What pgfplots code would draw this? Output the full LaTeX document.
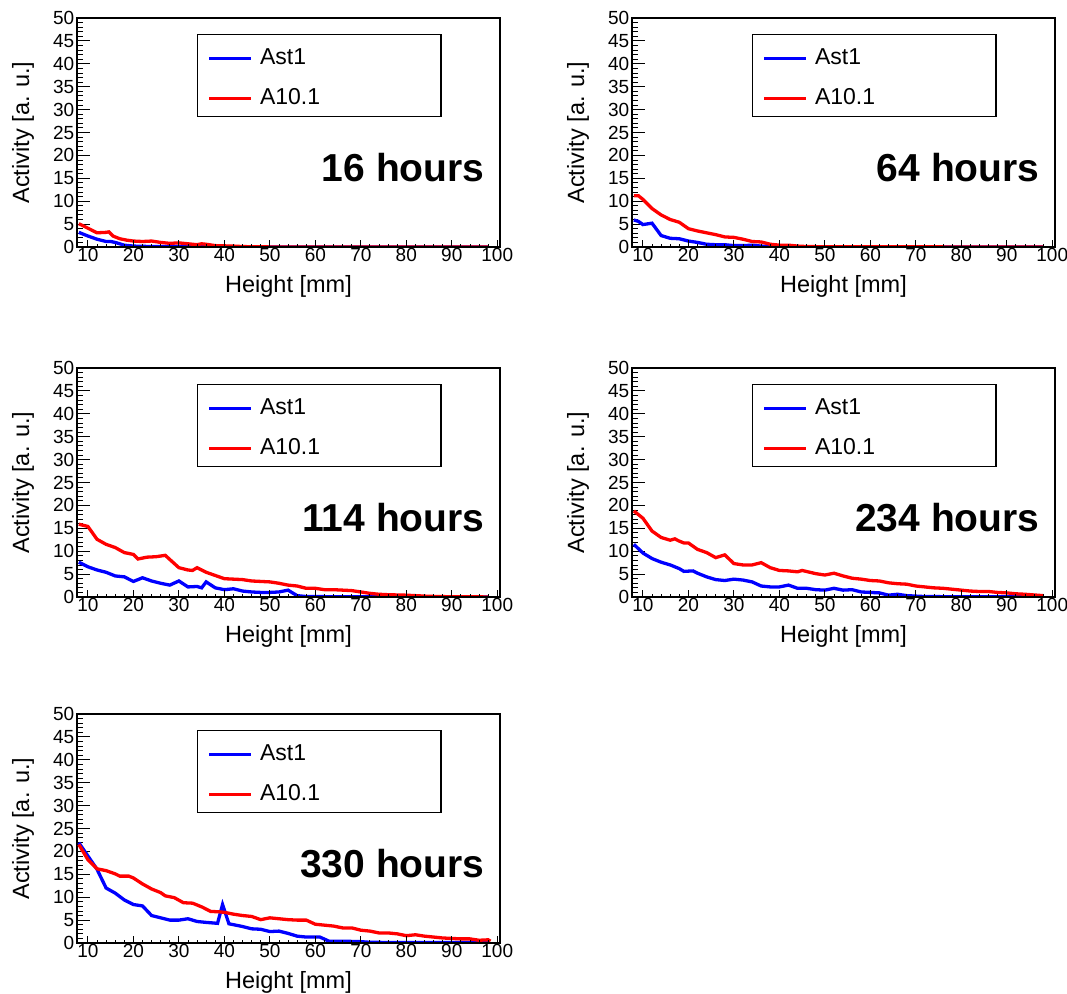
\documentclass[border=0pt]{standalone}
\usepackage{fontspec}
\setmainfont{Liberation Sans}
\usepackage{pgfplots}
\pgfplotsset{compat=1.18}
\pgfplotsset{
  rootbase/.style={
    scale only axis, width=423pt, height=229pt, anchor=south west,
    xmin=7.6, xmax=100.6, ymin=0, ymax=50,
    tick align=inside, xtick pos=bottom, ytick pos=left,
    axis line style={line width=1.3pt},
    every tick/.style={black, line width=0.9pt},
    tick label style={font=\fontsize{19}{19}\selectfont},
    xticklabel style={inner sep=1.5pt},
    yticklabel style={inner sep=2.5pt},
    /pgf/number format/assume math mode=true,
  },
  rootstyle/.style={
    rootbase,
    xtick=\empty, ytick={0,5,...,50}, minor y tick num=4,
    major tick length=12.7pt, minor tick length=6.3pt,
    xlabel={Height [mm]}, ylabel={Activity [a. u.]},
    every axis x label/.style={at={(rel axis cs:0.5,0)}, yshift=-39pt, anchor=center, font=\fontsize{23.5}{24}\selectfont},
    every axis y label/.style={at={(rel axis cs:0,0.5)}, xshift=-54pt, rotate=90, anchor=center, font=\fontsize{23.5}{24}\selectfont},
    legend style={at={(0.284,0.93)}, anchor=north west, draw=black, line width=1.2pt,
      inner xsep=10pt, inner ysep=12.5pt, row sep=23pt, column sep=7pt,
      font=\fontsize{23}{23}\selectfont,
      nodes={inner sep=0pt, text height=17pt, text depth=0pt}},
    legend cell align=left,
    legend image code/.code={\draw[##1] (0pt,-3pt) -- (42pt,-3pt);},
  },
  xtickaxis/.style={
    rootbase, hide y axis,
    xtick={10,20,...,100}, minor x tick num=4,
    major tick length=6.9pt, minor tick length=3.4pt,
  },
  bl/.style={blue, line width=3.3pt},
  rd/.style={red, line width=3.3pt},
}
\newcommand{\hourlabel}[1]{\node[anchor=base east, font=\fontsize{39}{39}\selectfont\bfseries] at (rel axis cs:0.9716,0.288) {#1};}
\begin{document}
\begin{tikzpicture}
\useasboundingbox (0pt,0pt) rectangle (1067pt,-993pt);
% 16 hours
\begin{axis}[rootstyle, at={(77pt,-247pt)}]
\addplot[bl] coordinates {(8,3.2)(10,2.4)(12,1.7)(14,1.2)(15,1.2)(16,1.0)(18,0.4)(20,0.2)(22,0.15)(24,0.1)(26,0.1)(28,0.1)(30,0.1)(32,0.1)(34,0.1)(36,0.2)(38,0.05)(40,0.05)(44,0.02)(46,0)(98,0)};
\addlegendentry{\makebox[171pt][l]{Ast1}}
\addplot[rd] coordinates {(8,5.1)(10,4.1)(12,3.1)(14,3.2)(14.6,3.3)(15.5,2.4)(17,1.8)(18.5,1.5)(20,1.3)(22,1.2)(24,1.3)(26,1.0)(28,0.8)(30,0.9)(32,0.7)(34,0.5)(35,0.7)(36,0.6)(38,0.3)(40,0.25)(42,0.2)(44,0.1)(46,0.05)(50,0.02)(98,0)};
\addlegendentry{\makebox[171pt][l]{A10.1}}
\hourlabel{16 hours}
\end{axis}
\begin{axis}[xtickaxis, at={(77pt,-247pt)}]\end{axis}
% 64 hours
\begin{axis}[rootstyle, at={(632pt,-247pt)}]
\addplot[bl] coordinates {(8,5.9)(9,5.6)(10,4.9)(12,5.2)(14,2.5)(16,1.9)(18,1.8)(20,1.3)(22,1.0)(24,0.6)(26,0.5)(28,0.5)(30,0.3)(32,0.3)(34,0.4)(36,0.2)(38,0.1)(40,0.05)(44,0)(98,0)};
\addlegendentry{\makebox[171pt][l]{Ast1}}
\addplot[rd] coordinates {(8,11.2)(9,11.2)(10,10.4)(12,8.4)(14,7.0)(16,6.0)(18,5.4)(20,4.0)(22,3.5)(24,3.1)(26,2.7)(28,2.2)(30,2.1)(32,1.7)(34,1.2)(36,1.1)(38,0.6)(40,0.4)(42,0.4)(44,0.2)(46,0.1)(50,0.05)(98,0)};
\addlegendentry{\makebox[171pt][l]{A10.1}}
\hourlabel{64 hours}
\end{axis}
\begin{axis}[xtickaxis, at={(632pt,-247pt)}]\end{axis}
% 114 hours
\begin{axis}[rootstyle, at={(77pt,-597pt)}]
\addplot[bl] coordinates {(8,7.6)(10,6.6)(12,5.9)(14,5.4)(16,4.6)(18,4.4)(20,3.4)(22,4.2)(24,3.5)(26,3.0)(28,2.6)(30,3.5)(32,2.2)(34,2.3)(35,2.0)(36,3.3)(38,2.0)(40,1.6)(42,1.8)(44,1.3)(46,1.1)(48,1.0)(50,1.0)(52,1.1)(54,1.5)(56,0.3)(58,0.1)(60,0.1)(65,0.05)(70,0.05)(80,0)(98,0)};
\addlegendentry{\makebox[171pt][l]{Ast1}}
\addplot[rd] coordinates {(8,15.9)(10,15.4)(12,12.6)(14,11.5)(16,10.8)(18,9.7)(20,9.3)(21,8.3)(23,8.7)(25,8.8)(27,9.1)(30,6.4)(32,5.9)(33,5.8)(34,6.4)(36,5.4)(38,4.7)(40,4.0)(42,3.9)(44,3.8)(46,3.5)(48,3.4)(50,3.3)(52,3.0)(54,2.6)(56,2.4)(58,1.9)(60,1.9)(62,1.6)(64,1.6)(66,1.5)(68,1.4)(70,1.1)(72,0.8)(74,0.6)(76,0.5)(80,0.4)(85,0.15)(90,0.05)(98,0.02)};
\addlegendentry{\makebox[171pt][l]{A10.1}}
\hourlabel{114 hours}
\end{axis}
\begin{axis}[xtickaxis, at={(77pt,-597pt)}]\end{axis}
% 234 hours
\begin{axis}[rootstyle, at={(632pt,-597pt)}]
\addplot[bl] coordinates {(8,11.5)(10,9.6)(12,8.4)(14,7.6)(16,7.0)(18,6.2)(19,5.6)(21,5.7)(22,5.2)(24,4.4)(26,3.8)(28,3.6)(30,3.9)(32,3.7)(34,3.3)(36,2.4)(38,2.2)(40,2.2)(42,2.6)(44,1.9)(46,1.9)(48,1.6)(50,1.5)(52,1.9)(54,1.5)(56,1.6)(58,1.1)(60,1.0)(62,0.9)(64,0.4)(66,0.6)(68,0.3)(70,0.2)(72,0.1)(80,0.05)(98,0.02)};
\addlegendentry{\makebox[171pt][l]{Ast1}}
\addplot[rd] coordinates {(8,18.8)(10,17.2)(12,14.4)(14,13.0)(16,12.4)(17,12.7)(18,12.2)(19,11.8)(20,11.8)(22,10.4)(24,9.7)(26,8.6)(28,9.2)(30,7.3)(32,7.0)(34,7.0)(36,7.5)(38,6.4)(40,5.8)(42,5.7)(44,5.5)(45,5.8)(48,5.1)(50,4.8)(52,5.2)(54,4.6)(56,4.1)(58,3.9)(60,3.6)(62,3.5)(64,3.1)(66,2.9)(68,2.8)(70,2.4)(72,2.2)(74,2.0)(76,1.9)(78,1.7)(80,1.5)(82,1.3)(84,1.2)(86,1.2)(88,1.0)(90,0.9)(92,0.7)(94,0.6)(96,0.45)(98,0.3)};
\addlegendentry{\makebox[171pt][l]{A10.1}}
\hourlabel{234 hours}
\end{axis}
\begin{axis}[xtickaxis, at={(632pt,-597pt)}]\end{axis}
% 330 hours
\begin{axis}[rootstyle, at={(77pt,-943pt)}]
\addplot[bl] coordinates {(8,21.9)(10,19.0)(12,16.1)(14,12.0)(16,10.9)(18,9.4)(20,8.4)(22,8.1)(24,6.0)(26,5.5)(28,5.0)(30,5.0)(32,5.3)(34,4.7)(36,4.5)(38.5,4.3)(39.6,8.4)(41,4.2)(42,4.0)(44,3.6)(46,3.1)(48,3.0)(50,2.5)(52,2.6)(54,2.1)(56,1.5)(58,1.3)(60,1.3)(61,1.3)(63,0.4)(66,0.4)(70,0.3)(72,0.15)(80,0.1)(98,0.1)};
\addlegendentry{\makebox[171pt][l]{Ast1}}
\addplot[rd] coordinates {(8,21.5)(10,18.2)(12,16.2)(14,15.8)(16,15.1)(17,14.6)(19,14.6)(20,14.2)(22,12.9)(24,11.8)(26,11.0)(27,10.3)(29,9.9)(31,8.8)(33,8.7)(35,7.9)(37,6.9)(39,6.8)(40,6.7)(42,6.3)(44,6.0)(46,5.8)(48,5.1)(50,5.5)(52,5.3)(54,5.1)(56,5.0)(58,5.0)(60,4.1)(62,3.9)(64,3.7)(66,3.3)(68,3.3)(70,2.8)(72,2.6)(74,2.2)(76,2.2)(78,2.0)(80,1.6)(82,1.8)(84,1.5)(86,1.3)(88,1.1)(90,1.0)(92,0.9)(94,0.9)(96,0.6)(98,0.7)(98.5,0.4)};
\addlegendentry{\makebox[171pt][l]{A10.1}}
\hourlabel{330 hours}
\end{axis}
\begin{axis}[xtickaxis, at={(77pt,-943pt)}]\end{axis}
\end{tikzpicture}
\end{document}
